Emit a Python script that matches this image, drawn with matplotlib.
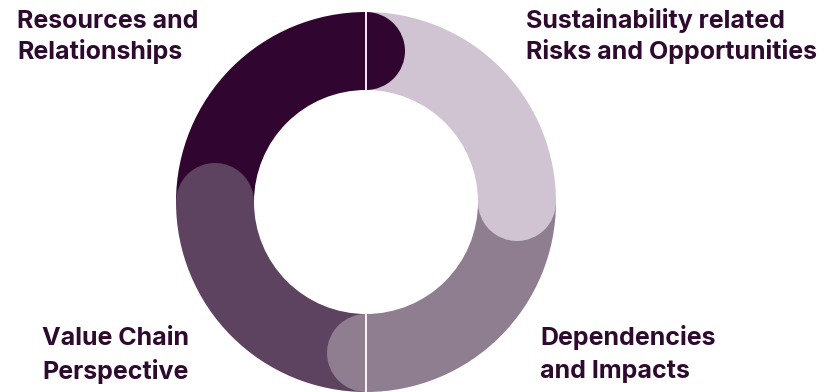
import matplotlib
matplotlib.use("Agg")
import matplotlib.pyplot as plt
from matplotlib.patches import Wedge
import numpy as np

# Data (clockwise from the top)
categories = ["Sustainability related\nRisks and Opportunities",
              "Dependencies\nand Impacts",
              "Value Chain\nPerspective",
              "Resources and\nRelationships"]
values = [25, 25, 25, 25]
colors = ["#d0c4d2", "#8f7d90", "#5e4360", "#300530"]
text_color = "#2d0a2e"

W, H = 830, 392
fig = plt.figure(figsize=(W / 100, H / 100), dpi=100)
ax = fig.add_axes([0, 0, 1, 1])

cx, cy = 366, H - 202
R, width = 190, 78

wedges, _ = ax.pie(values, colors=colors, startangle=90, counterclock=False,
                   radius=R, center=(cx, cy),
                   wedgeprops=dict(width=width, linewidth=0))

# rounded caps at the clockwise end of each segment
rc = R - width / 2
cr = width / 2
for w, col in zip(wedges, colors):
    th = w.theta1
    c, s = np.cos(np.radians(th)), np.sin(np.radians(th))
    px, py = cx + rc * c, cy + rc * s
    cap = Wedge((px, py), cr, th - 180, th, facecolor=col,
                linewidth=0, zorder=3)
    ax.add_patch(cap)
    # thin white separator on vertical boundaries (top / bottom)
    if abs(c) < 1e-6:
        ax.plot([cx + (R - width) * c, cx + R * c],
                [cy + (R - width) * s, cy + R * s],
                color="white", lw=1.3, zorder=4, solid_capstyle="butt")

ax.set_xlim(0, W)
ax.set_ylim(0, H)
ax.set_aspect("equal")
ax.axis("off")

# labels: (x, baseline y of first line in px, line gap)
label_pos = [(526, 28, 31),
             (540, 345, 33),
             (42, 345, 34),
             (17, 28, 31)]
for lab, (x, y0, gap) in zip(categories, label_pos):
    for i, line in enumerate(lab.split("\n")):
        ax.text(x, H - (y0 + i * gap), line, ha="left", va="baseline",
                fontsize=18.0, fontweight="bold", family="Inter",
                color=text_color)

fig.savefig("out.png", dpi=100)
